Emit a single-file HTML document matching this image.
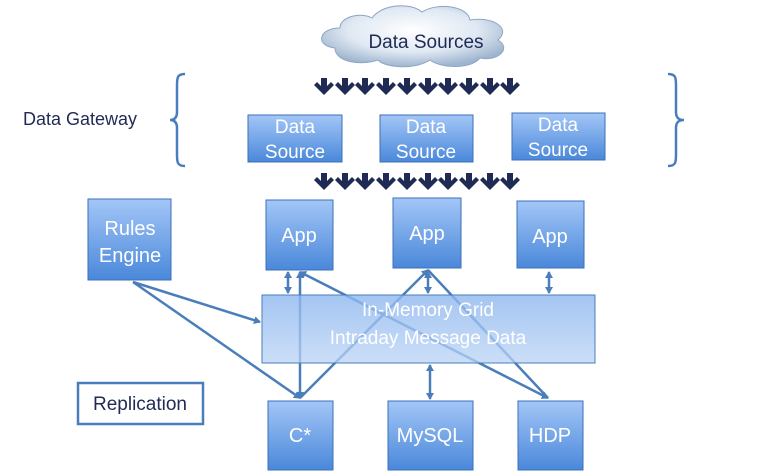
<!DOCTYPE html>
<html><head><meta charset="utf-8"><style>
body{margin:0;background:#fff;width:759px;height:472px;overflow:hidden}
svg{display:block;font-family:"Liberation Sans",sans-serif}
</style></head><body>
<svg width="759" height="472" viewBox="0 0 759 472" xmlns="http://www.w3.org/2000/svg">
<defs>
<linearGradient id="bx" x1="0" y1="0" x2="0" y2="1">
<stop offset="0" stop-color="#a3c6f7"/><stop offset="1" stop-color="#4a88da"/>
</linearGradient>
<linearGradient id="gr" x1="0" y1="0" x2="0" y2="1">
<stop offset="0" stop-color="#8db6ef" stop-opacity="0.8"/><stop offset="1" stop-color="#b9d3f5" stop-opacity="0.75"/>
</linearGradient>
<radialGradient id="cl" cx="0.5" cy="0.4" r="0.6">
<stop offset="0" stop-color="#ffffff"/><stop offset="0.6" stop-color="#dfe8f3"/><stop offset="1" stop-color="#9fb5cf"/>
</radialGradient>
<marker id="ah" markerWidth="8" markerHeight="8" refX="6" refY="4" orient="auto" markerUnits="userSpaceOnUse">
<path d="M0,0 L7,4 L0,8 z" fill="#4a7ebb"/></marker>
<marker id="as" markerWidth="8" markerHeight="8" refX="1" refY="4" orient="auto" markerUnits="userSpaceOnUse">
<path d="M7,0 L0,4 L7,8 z" fill="#4a7ebb"/></marker>
<g id="arr"><path d="M-3,0 h6 v8 l4,-4 l3,3 l-10,10 l-10,-10 l3,-3 l4,4 z" fill="#1f2a55"/></g>
</defs>

<!-- cloud -->
<path d="M335,48 C315,46 318,28 340,28 C340,16 362,12 372,18 C382,4 410,2 422,12 C438,2 468,6 470,20 C492,16 512,28 498,40 C512,48 498,62 480,58 C470,70 440,68 430,60 C415,70 385,68 378,60 C360,66 335,62 335,48 Z" fill="url(#cl)" stroke="#8ea6c4" stroke-width="1"/>
<text x="426" y="48" font-size="19" fill="#1f2a55" text-anchor="middle">Data Sources</text>

<g>
<use href="#arr" x="324" y="78"/><use href="#arr" x="345" y="78"/><use href="#arr" x="365" y="78"/><use href="#arr" x="386" y="78"/><use href="#arr" x="407" y="78"/><use href="#arr" x="428" y="78"/><use href="#arr" x="448" y="78"/><use href="#arr" x="469" y="78"/><use href="#arr" x="490" y="78"/><use href="#arr" x="510" y="78"/>
<use href="#arr" x="324" y="173"/><use href="#arr" x="345" y="173"/><use href="#arr" x="365" y="173"/><use href="#arr" x="386" y="173"/><use href="#arr" x="407" y="173"/><use href="#arr" x="428" y="173"/><use href="#arr" x="448" y="173"/><use href="#arr" x="469" y="173"/><use href="#arr" x="490" y="173"/><use href="#arr" x="510" y="173"/>
</g>

<text x="23" y="125" font-size="18" fill="#1f2a55">Data Gateway</text>
<path d="M185,74 C177,74 177,78 177,86 L177,112 C177,118 174,120 170,120 C174,120 177,122 177,128 L177,154 C177,162 177,166 185,166" fill="none" stroke="#4a7ebb" stroke-width="2.5"/>
<path d="M668,74 C676,74 676,78 676,86 L676,112 C676,118 679,120 684,120 C679,120 676,122 676,128 L676,154 C676,162 676,166 668,166" fill="none" stroke="#4a7ebb" stroke-width="2.5"/>

<g stroke="#3d70b8" stroke-width="1" fill="url(#bx)">
<rect x="248" y="115" width="94" height="47"/>
<rect x="380" y="115" width="93" height="47"/>
<rect x="512" y="113" width="93" height="47"/>
</g>
<g fill="#fff" font-size="19" text-anchor="middle">
<text x="295" y="133">Data</text><text x="295" y="158">Source</text>
<text x="426" y="133">Data</text><text x="426" y="158">Source</text>
<text x="558" y="131">Data</text><text x="558" y="156">Source</text>
</g>

<!-- lines (behind grid) -->
<g stroke="#4a7ebb" stroke-width="2.5" fill="none">
<line x1="133" y1="282" x2="260" y2="322" marker-end="url(#ah)"/>
<line x1="133" y1="282" x2="300" y2="398" marker-end="url(#ah)"/>
<line x1="300" y1="272" x2="300" y2="398" marker-start="url(#as)" marker-end="url(#ah)"/>
<line x1="300" y1="272" x2="548" y2="398" marker-start="url(#as)" marker-end="url(#ah)"/>
<line x1="428" y1="270" x2="300" y2="398" marker-start="url(#as)"/>
<line x1="428" y1="270" x2="548" y2="398"/>
<line x1="428" y1="272" x2="428" y2="293" marker-start="url(#as)" marker-end="url(#ah)"/>
<line x1="288" y1="272" x2="288" y2="293" marker-start="url(#as)" marker-end="url(#ah)"/>
<line x1="549" y1="272" x2="549" y2="293" marker-start="url(#as)" marker-end="url(#ah)"/>
<line x1="430" y1="365" x2="430" y2="399" marker-start="url(#as)" marker-end="url(#ah)"/>
</g>

<rect x="262" y="295" width="333" height="68" fill="url(#gr)" stroke="#4a7ebb" stroke-width="1"/>
<g fill="#fff" font-size="19" text-anchor="middle">
<text x="428" y="316">In-Memory Grid</text>
<text x="428" y="344">Intraday Message Data</text>
</g>

<g stroke="#3d70b8" stroke-width="1" fill="url(#bx)">
<rect x="88" y="199" width="83" height="81"/>
<rect x="266" y="200" width="67" height="70"/>
<rect x="393" y="198" width="68" height="70"/>
<rect x="517" y="201" width="67" height="67"/>
<rect x="268" y="401" width="65" height="69"/>
<rect x="388" y="401" width="85" height="69"/>
<rect x="518" y="401" width="65" height="69"/>
</g>
<g fill="#fff" font-size="20" text-anchor="middle">
<text x="130" y="235">Rules</text><text x="130" y="262">Engine</text>
<text x="299" y="242">App</text>
<text x="427" y="240">App</text>
<text x="550" y="243">App</text>
<text x="300" y="442">C*</text>
<text x="430" y="442">MySQL</text>
<text x="550" y="442">HDP</text>
</g>

<rect x="78" y="383" width="125" height="41" fill="#fff" stroke="#4a7ebb" stroke-width="2.5"/>
<text x="140" y="410" font-size="19" fill="#1f2a55" text-anchor="middle">Replication</text>
</svg>
</body></html>
